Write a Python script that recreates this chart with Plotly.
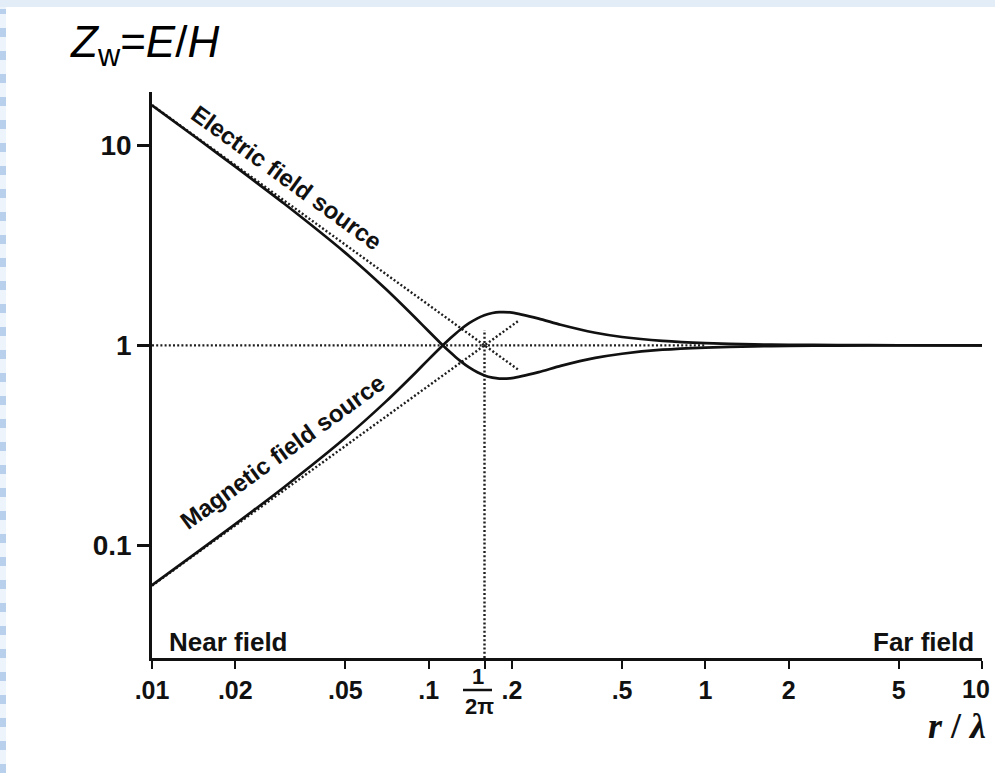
import math
import plotly.graph_objects as go

# ---------------- data ----------------
r_over_lambda = [0.01, 0.015, 0.02, 0.03, 0.05, 0.07, 0.09, 0.1, 0.11, 0.12, 0.125, 0.13,
                 0.14, 0.15, 0.159, 0.17, 0.18, 0.2, 0.25, 0.3, 0.4, 0.5, 0.7, 1, 1.5, 2, 3, 5, 10]
electric_source = [15.85, 10.52, 7.83, 5.12, 2.90, 1.912, 1.362, 1.176, 1.031, 0.920, 0.875, 0.836,
                   0.775, 0.733, 0.707, 0.689, 0.682, 0.686, 0.735, 0.789, 0.865, 0.908, 0.951,
                   0.975, 0.989, 0.994, 0.997, 0.999, 1.0]
magnetic_source = [0.0631, 0.0951, 0.1276, 0.1952, 0.345, 0.523, 0.734, 0.851, 0.970, 1.087, 1.143,
                   1.196, 1.290, 1.365, 1.414, 1.451, 1.466, 1.459, 1.361, 1.267, 1.156, 1.101,
                   1.052, 1.025, 1.011, 1.006, 1.003, 1.001, 1.0]

# dotted asymptotes (near-field slopes) and reference lines
asym_x = [0.01, 0.21]
asym_electric = [15.92, 0.758]
asym_magnetic = [0.0628, 1.319]
unity_x = [0.01, 1.0]
unity_y = [1.0, 1.0]
boundary = 1 / (2 * math.pi)
boundary_x = [boundary, boundary]
boundary_y = [0.0273, 1.19]

x_tickvals = [0.01, 0.02, 0.05, 0.1, 0.2, 0.5, 1, 2, 5]
x_ticktext = [".01", ".02", ".05", ".1", ".2", ".5", "1", "2", "5"]
x_extra_ticks = [boundary, 10]          # ticks whose labels are drawn as annotations
y_tickvals = [0.1, 1, 10]
y_ticktext = ["0.1", "1", "10"]

Y_MIN, Y_MAX = 0.0273, 18.5

# ---------------- layout geometry ----------------
W, H = 995, 773
ML, MR, MT, MB = 152, 13, 92, 115
PW, PH = W - ML - MR, H - MT - MB


def px_x(px):
    return (px - ML) / PW


def px_y(py):
    return (H - MB - py) / PH


FONT = "Liberation Sans, Arial, Helvetica, sans-serif"
INK = "#111111"

fig = go.Figure()

dot = dict(color="#1e1e1e", width=2.4, dash="2px,2.2px")
fig.add_trace(go.Scatter(x=unity_x, y=unity_y, mode="lines", line=dot, hoverinfo="skip"))
fig.add_trace(go.Scatter(x=asym_x, y=asym_electric, mode="lines", line=dot, hoverinfo="skip"))
fig.add_trace(go.Scatter(x=asym_x, y=asym_magnetic, mode="lines", line=dot, hoverinfo="skip"))
fig.add_trace(go.Scatter(x=boundary_x, y=boundary_y, mode="lines", line=dot, hoverinfo="skip"))

solid = dict(color=INK, width=2.7, shape="spline", smoothing=0.6)
fig.add_trace(go.Scatter(x=r_over_lambda, y=electric_source, mode="lines", line=solid,
                         name="Electric field source"))
fig.add_trace(go.Scatter(x=r_over_lambda, y=magnetic_source, mode="lines", line=solid,
                         name="Magnetic field source"))

angle = math.degrees(math.atan((PH / (math.log10(Y_MAX) - math.log10(Y_MIN))) / (PW / 3)))

annotations = [
    dict(text="<i>Z</i><sub>w</sub>=<i>E</i>/<i>H</i>", xref="paper", yref="paper",
         x=px_x(68), y=px_y(45), xanchor="left", yanchor="middle", showarrow=False,
         font=dict(family=FONT, size=44, color="#000")),
    dict(text="Electric field source", xref="x", yref="y", x=math.log10(0.0307),
         y=math.log10(6.95), textangle=angle, showarrow=False,
         font=dict(family=FONT, size=24, color=INK, weight="bold")),
    dict(text="Magnetic field source", xref="x", yref="y", x=math.log10(0.0297),
         y=math.log10(0.2928), textangle=-angle, showarrow=False,
         font=dict(family=FONT, size=24, color=INK, weight="bold")),
    dict(text="Near field", xref="paper", yref="paper", x=px_x(167), y=px_y(642),
         xanchor="left", yanchor="middle", showarrow=False,
         font=dict(family=FONT, size=26, color=INK, weight="bold")),
    dict(text="Far field", xref="paper", yref="paper", x=px_x(976), y=px_y(642),
         xanchor="right", yanchor="middle", showarrow=False,
         font=dict(family=FONT, size=26, color=INK, weight="bold")),
    dict(text="<i>r</i> / <i>λ</i>", xref="paper", yref="paper", x=px_x(957), y=px_y(726),
         xanchor="center", yanchor="middle", showarrow=False,
         font=dict(family="Liberation Serif, Times New Roman, serif", size=36, color=INK,
                   weight="bold")),
    dict(text="10", xref="paper", yref="paper", x=px_x(976), y=px_y(689),
         xanchor="center", yanchor="middle", showarrow=False,
         font=dict(family=FONT, size=25, color=INK, weight="bold")),
    dict(text="1", xref="paper", yref="paper", x=px_x(478), y=px_y(676),
         xanchor="center", yanchor="middle", showarrow=False,
         font=dict(family=FONT, size=22, color=INK, weight="bold")),
    dict(text="2π", xref="paper", yref="paper", x=px_x(479), y=px_y(706),
         xanchor="center", yanchor="middle", showarrow=False,
         font=dict(family=FONT, size=22, color=INK, weight="bold")),
]

shapes = [
    # fraction bar of 1/(2π)
    dict(type="line", xref="paper", yref="paper", x0=px_x(463), x1=px_x(492),
         y0=px_y(690), y1=px_y(690), line=dict(color=INK, width=2.5)),
    # light-blue slide decoration (top strip and dashed left edge)
    dict(type="rect", xref="paper", yref="paper", x0=px_x(0), x1=px_x(W), y0=px_y(7), y1=px_y(0),
         fillcolor="#e3edf8", line=dict(width=0), layer="below"),
    dict(type="rect", xref="paper", yref="paper", x0=px_x(0), x1=px_x(6), y0=px_y(H), y1=px_y(7),
         fillcolor="#eef4fb", line=dict(width=0), layer="below"),
    dict(type="line", xref="paper", yref="paper", x0=px_x(3), x1=px_x(3), y0=px_y(H), y1=px_y(9),
         line=dict(color="#b9d0ec", width=6, dash="9px,14px"), layer="below"),
]

fig.update_layout(
    width=W, height=H, autosize=False,
    margin=dict(l=ML, r=MR, t=MT, b=MB),
    paper_bgcolor="white", plot_bgcolor="white",
    showlegend=False,
    annotations=annotations,
    shapes=shapes,
    xaxis=dict(type="log", range=[-2, 1], tickmode="array", tickvals=x_tickvals,
               ticktext=x_ticktext,
               ticks="outside", ticklen=8, tickwidth=2, tickcolor=INK,
               minor=dict(tickmode="array", tickvals=x_extra_ticks, ticks="outside", ticklen=8,
                          tickwidth=2, tickcolor=INK, showgrid=False),
               showline=True, linewidth=2.6, linecolor=INK, showgrid=False, zeroline=False,
               tickfont=dict(family=FONT, size=25, color=INK, weight="bold")),
    yaxis=dict(type="log", range=[math.log10(Y_MIN), math.log10(Y_MAX)], tickvals=y_tickvals,
               ticktext=y_ticktext, ticks="outside", ticklen=12, tickwidth=2.5, tickcolor=INK,
               showline=True, linewidth=2.6, linecolor=INK, showgrid=False, zeroline=False,
               tickfont=dict(family=FONT, size=28, color=INK, weight="bold")),
)

# remove the browser's default 8px body margin so the figure sits at the page origin
fig.write_html("out.html", config={"displayModeBar": False},
               post_script="document.body.style.margin='0';")
